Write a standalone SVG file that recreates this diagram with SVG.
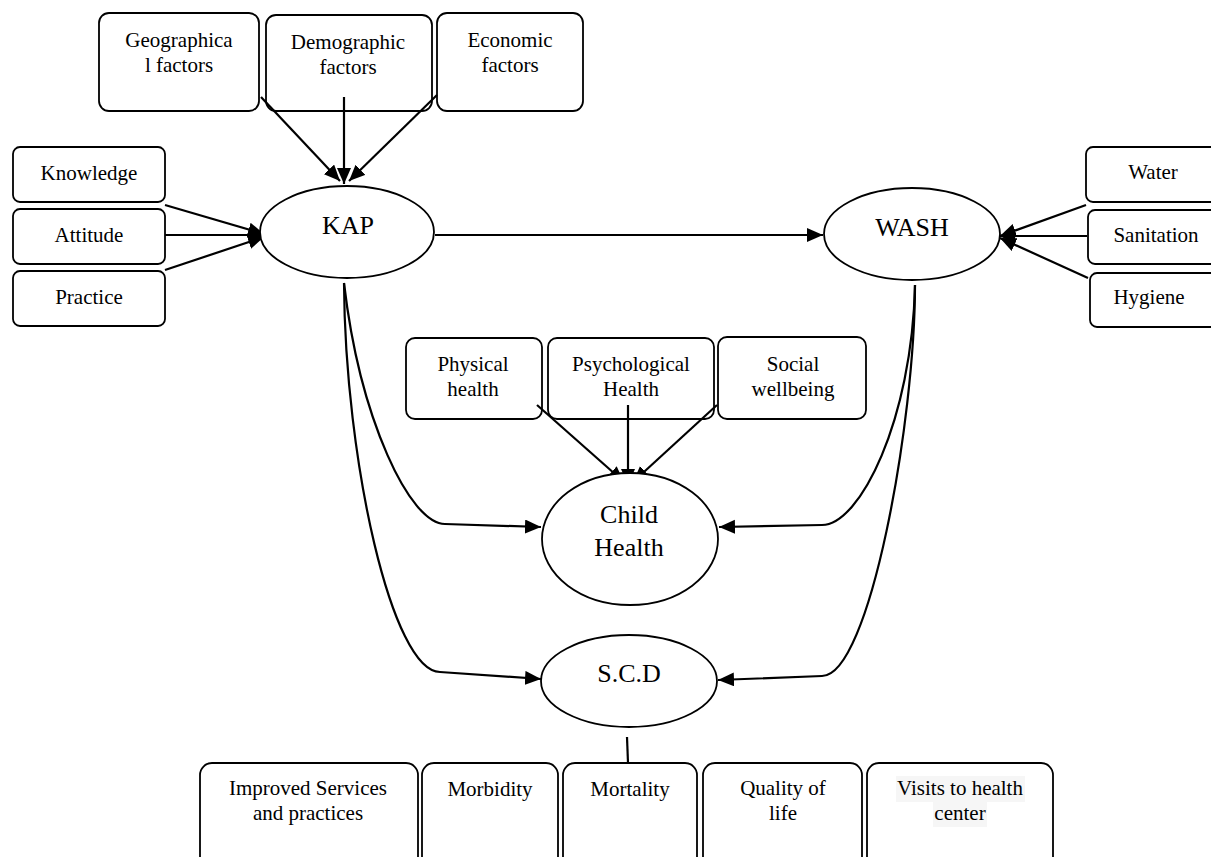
<svg xmlns="http://www.w3.org/2000/svg" width="1211" height="857" viewBox="0 0 1211 857">
<style>
.box{fill:#fff;stroke:#000;stroke-width:1.8}
.ell{fill:#fff;stroke:#000;stroke-width:1.8}
.t{font-family:"Liberation Serif","Times New Roman",serif;font-size:21px;fill:#000;text-anchor:middle}
.big{font-size:26px}
.c{fill:none;stroke:#000;stroke-width:2.2}
</style>
<defs>
<marker id="ah" markerUnits="userSpaceOnUse" markerWidth="17" markerHeight="15" refX="16" refY="7" orient="auto">
<path d="M0,0 L16,7 L0,14 z" fill="#000"/>
</marker>
</defs>
<rect width="1211" height="857" fill="#fff"/>

<g id="geographical"><rect class="box" x="99" y="13" width="160" height="98" rx="10"/><text class="t" x="179" y="47">Geographica</text><text class="t" x="179" y="72">l factors</text></g>
<g id="demographic"><rect class="box" x="266" y="15" width="166" height="96" rx="10"/><text class="t" x="348" y="49">Demographic</text><text class="t" x="348" y="74">factors</text></g>
<g id="economic"><rect class="box" x="437" y="13" width="146" height="98" rx="10"/><text class="t" x="510" y="47">Economic</text><text class="t" x="510" y="72">factors</text></g>

<g id="knowledge"><rect class="box" x="13" y="147" width="152" height="55" rx="7"/><text class="t" x="89" y="180">Knowledge</text></g>
<g id="attitude"><rect class="box" x="13" y="209" width="152" height="55" rx="7"/><text class="t" x="89" y="242">Attitude</text></g>
<g id="practice"><rect class="box" x="13" y="271" width="152" height="55" rx="7"/><text class="t" x="89" y="304">Practice</text></g>

<g id="water"><rect class="box" x="1086" y="147" width="140" height="55" rx="7"/><text class="t" x="1153" y="179">Water</text></g>
<g id="sanitation"><rect class="box" x="1088" y="210" width="140" height="54" rx="7"/><text class="t" x="1156" y="242">Sanitation</text></g>
<g id="hygiene"><rect class="box" x="1090" y="273" width="140" height="54" rx="7"/><text class="t" x="1149" y="304">Hygiene</text></g>

<g id="physical"><rect class="box" x="406" y="338" width="136" height="81" rx="9"/><text class="t" x="473" y="371">Physical</text><text class="t" x="473" y="396">health</text></g>
<g id="psychological"><rect class="box" x="548" y="338" width="166" height="81" rx="9"/><text class="t" x="631" y="371">Psychological</text><text class="t" x="631" y="396">Health</text></g>
<g id="social"><rect class="box" x="718" y="337" width="148" height="82" rx="9"/><text class="t" x="793" y="371">Social</text><text class="t" x="793" y="396">wellbeing</text></g>

<g id="improved"><rect class="box" x="200" y="763" width="218" height="110" rx="12"/><text class="t" x="308" y="795">Improved Services</text><text class="t" x="308" y="820">and practices</text></g>
<g id="morbidity"><rect class="box" x="422" y="763" width="136" height="110" rx="12"/><text class="t" x="490" y="796">Morbidity</text></g>
<g id="mortality"><rect class="box" x="563" y="763" width="134" height="110" rx="12"/><text class="t" x="630" y="796">Mortality</text></g>
<g id="quality"><rect class="box" x="703" y="763" width="159" height="110" rx="12"/><text class="t" x="783" y="795">Quality of</text><text class="t" x="783" y="820">life</text></g>
<g id="visits"><rect class="box" x="867" y="763" width="186" height="110" rx="12"/><rect x="896" y="776" width="129" height="26" fill="#f6f6f6"/><rect x="933" y="802" width="54" height="25" fill="#f6f6f6"/><text class="t" x="960" y="795">Visits to health</text><text class="t" x="960" y="820">center</text></g>

<g id="connectors">
<line class="c" x1="261" y1="97" x2="340" y2="181" marker-end="url(#ah)"/>
<line class="c" x1="344" y1="97" x2="344" y2="184" marker-end="url(#ah)"/>
<line class="c" x1="437" y1="95" x2="349" y2="181" marker-end="url(#ah)"/>
<line class="c" x1="165" y1="205" x2="264" y2="234" marker-end="url(#ah)"/>
<line class="c" x1="165" y1="235" x2="265" y2="235" marker-end="url(#ah)"/>
<line class="c" x1="165" y1="270" x2="264" y2="237" marker-end="url(#ah)"/>
<line class="c" x1="435" y1="235" x2="823" y2="235" marker-end="url(#ah)"/>
<line class="c" x1="1086" y1="205" x2="1000" y2="236" marker-end="url(#ah)"/>
<line class="c" x1="1087" y1="236" x2="999" y2="236" marker-end="url(#ah)"/>
<line class="c" x1="1088" y1="278" x2="1000" y2="238" marker-end="url(#ah)"/>
<line class="c" x1="537" y1="405" x2="624" y2="482" marker-end="url(#ah)"/>
<line class="c" x1="628" y1="405" x2="628" y2="485" marker-end="url(#ah)"/>
<line class="c" x1="717" y1="405" x2="633" y2="482" marker-end="url(#ah)"/>
<path class="c" d="M344,283 C360,420 410,524 445,524 L541,527" marker-end="url(#ah)"/>
<path class="c" d="M344,283 C345,460 392,672 440,672 L541,679" marker-end="url(#ah)"/>
<path class="c" d="M915,285 C912,420 860,525 822,525 L719,527" marker-end="url(#ah)"/>
<path class="c" d="M915,285 C915,420 870,676 822,676 L718,680" marker-end="url(#ah)"/>
<line class="c" x1="627" y1="737" x2="628" y2="763"/>
</g>

<g id="kap"><ellipse class="ell" cx="347" cy="232" rx="87" ry="46"/><text class="t big" x="348" y="234">KAP</text></g>
<g id="wash"><ellipse class="ell" cx="912" cy="234" rx="88" ry="46"/><text class="t big" x="912" y="236">WASH</text></g>
<g id="childhealth"><ellipse class="ell" cx="630" cy="539" rx="88" ry="66"/><text class="t big" x="629" y="523">Child</text><text class="t big" x="629" y="556">Health</text></g>
<g id="scd"><ellipse class="ell" cx="629" cy="681" rx="88" ry="46"/><text class="t big" x="629" y="682">S.C.D</text></g>
</svg>
